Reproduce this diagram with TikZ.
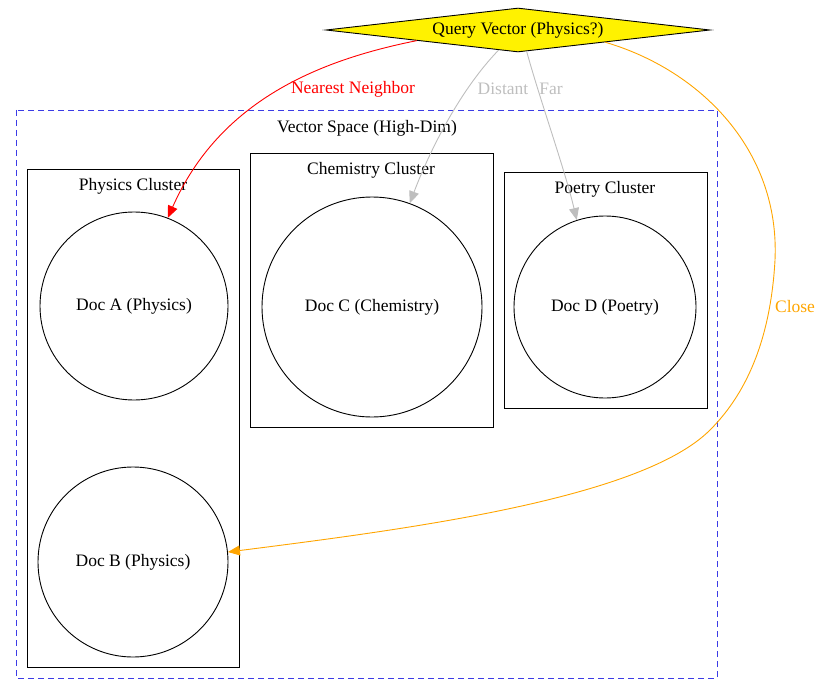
\documentclass[tikz,border=0pt]{standalone}
\usepackage{fontspec}
\setmainfont{Liberation Serif}
\usetikzlibrary{shapes.geometric,arrows.meta}
\definecolor{Frame}{RGB}{60, 60, 230}
\definecolor{Near}{RGB}{255, 0, 0}
\definecolor{Faint}{RGB}{190, 190, 190}
\definecolor{Closeby}{RGB}{255, 165, 0}
\tikzset{
  lab/.style={font=\fontsize{17.5}{20}\selectfont, inner sep=1pt},
  doc/.style={draw, circle, line width=0.9pt, font=\fontsize{17.5}{20}\selectfont},
  box/.style={draw, line width=0.9pt},
  link/.style={-{Triangle[length=12pt,width=10pt]}, line width=0.9pt}
}

\begin{document}
\begin{tikzpicture}[x=1pt, y=-1pt]
    %% Background
    \useasboundingbox (0,0) rectangle (821,695);

    %% Query
    \node[draw, diamond, aspect=8.7, fill=yellow, line width=0.9pt, inner sep=1pt, minimum width=384pt,
      minimum height=44pt, font=\fontsize{17.5}{20}\selectfont] (q) at (518,30) {Query Vector (Physics?)};

    %% Vector space
    \draw[Frame, line width=0.9pt, dash pattern=on 6pt off 4pt] (16,110) rectangle (717,678);
    \node[lab] (vs) at (367,128) {Vector Space (High-Dim)};

    %% Clusters
    \draw[box] (27,169) rectangle (239,667);
    \node[lab] (pc) at (133,186) {Physics Cluster};
    \draw[box] (250,153) rectangle (493,427);
    \node[lab] (cc) at (371,170) {Chemistry Cluster};
    \draw[box] (504,172) rectangle (707,408);
    \node[lab] (oc) at (605,189) {Poetry Cluster};

    %% Documents
    \node[doc, minimum size=188pt] (a) at (134,306) {Doc A (Physics)};
    \node[doc, minimum size=190pt] (b) at (133,562) {Doc B (Physics)};
    \node[doc, minimum size=220pt] (c) at (372,307) {Doc C (Chemistry)};
    \node[doc, minimum size=182pt] (d) at (605,307) {Doc D (Poetry)};

    %% Links
    \draw[link, Near] (q.186) .. controls (320,60) and (220,100) .. (a.69);
    \node[lab, Near] (nl) at (353,89) {Nearest Neighbor};
    \draw[link, Faint] (q.226) .. controls (460,90) and (430,150) .. (c.70);
    \node[lab, Faint] (dl) at (503,89) {Distant};
    \draw[link, Faint] (q.292) .. controls (540,100) and (565,170) .. (d.108);
    \node[lab, Faint] (fl) at (551,89) {Far};
    \draw[link, Closeby] (q.352) .. controls (700,70) and (780,150) .. (775,260)
      .. controls (770,350) and (740,400) .. (710,430)
      .. controls (640,500) and (400,530) .. (b.6);
    \node[lab, Closeby] (cl) at (795,307) {Close};
\end{tikzpicture}
\end{document}
